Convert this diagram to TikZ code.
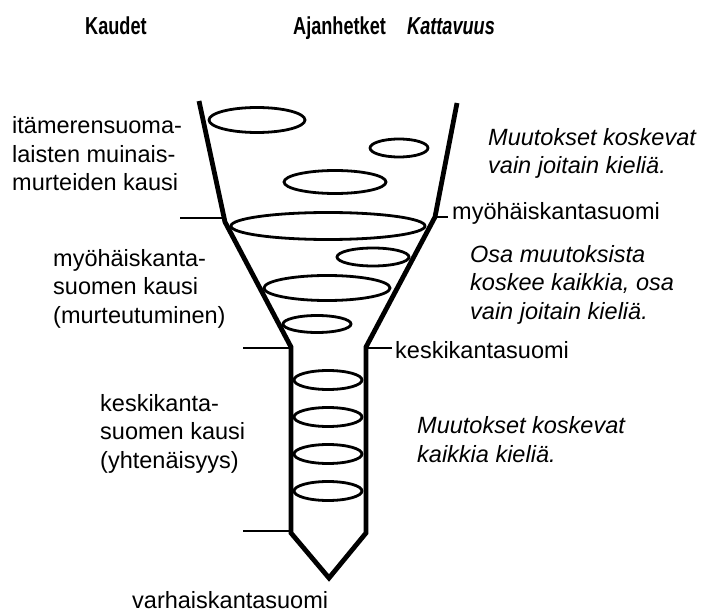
\documentclass[tikz,border=0pt]{standalone}
\usepackage{fontspec}
\setmainfont{Liberation Sans}
\newfontfamily\narrowfont[FakeStretch=0.74]{Liberation Sans}
\begin{document}
\begin{tikzpicture}[x=1pt,y=-1pt,
  lbl/.style={inner sep=0pt,anchor=base west,align=left,font=\fontsize{23.5}{28.5}\selectfont},
  ilbl/.style={lbl,font=\fontsize{23.5}{28.5}\selectfont\itshape},
  head/.style={inner sep=0pt,anchor=base west,font=\fontsize{24.5}{28}\selectfont\narrowfont\bfseries},
  funnel/.style={line width=4.8pt,line join=miter},
  tick/.style={line width=2.8pt},
  ring/.style={line width=2.8pt}]
\useasboundingbox (0,0) rectangle (714,612);
% headers
\node[head] (h1) at (85,35) {Kaudet};
\node[head] (h2) at (293,35) {Ajanhetket};
\node[head] (h3) at (407,35) {\itshape Kattavuus};
% funnel
\draw[funnel] (199,101) -- (225,222) -- (291,347) -- (291,533) -- (329,578)
  -- (366,533) -- (366,347) -- (435,217) -- (457,103);
% ticks
\coordinate (t1a) at (180,218); \coordinate (t1b) at (226,218);
\coordinate (t2a) at (435,217); \coordinate (t2b) at (448,217);
\coordinate (t3a) at (243,348); \coordinate (t3b) at (291,348);
\coordinate (t4a) at (366,348); \coordinate (t4b) at (392,348);
\coordinate (t5a) at (243,531); \coordinate (t5b) at (291,531);
\draw[tick] (t1a) -- (t1b);
\draw[tick] (t2a) -- (t2b);
\draw[tick] (t3a) -- (t3b);
\draw[tick] (t4a) -- (t4b);
\draw[tick] (t5a) -- (t5b);
% rings
\draw[ring] (257,120) ellipse [x radius=48, y radius=12.5];
\draw[ring] (399,148) ellipse [x radius=29, y radius=9];
\draw[ring] (335,182) ellipse [x radius=51, y radius=11.5];
\draw[ring] (328,226) ellipse [x radius=97, y radius=13.5];
\draw[ring] (373,257) ellipse [x radius=36, y radius=9];
\draw[ring] (327,288) ellipse [x radius=63, y radius=12.5];
\draw[ring] (317,324) ellipse [x radius=34, y radius=8.5];
\draw[ring] (328,380) ellipse [x radius=34, y radius=9.5];
\draw[ring] (328,417) ellipse [x radius=34, y radius=9.5];
\draw[ring] (328,454) ellipse [x radius=34, y radius=9.5];
\draw[ring] (328,491) ellipse [x radius=34, y radius=9.5];
% left labels (base anchor = last line)
\node[lbl] (k1) at (12,191) {itämerensuoma-\\laisten muinais-\\murteiden kausi};
\node[lbl] (k2) at (53,323) {myöhäiskanta-\\suomen kausi\\(murteutuminen)};
\node[lbl] (k3) at (100,468) {keskikanta-\\suomen kausi\\(yhtenäisyys)};
% time points
\node[lbl] (a1) at (452,220) {myöhäiskantasuomi};
\node[lbl] (a2) at (395,358) {keskikantasuomi};
\node[lbl] (a3) at (132,608) {varhaiskantasuomi};
% coverage
\node[ilbl] (c1) at (488,174) {Muutokset koskevat\\vain joitain kieliä.};
\node[ilbl] (c2) at (470,319) {Osa muutoksista\\koskee kaikkia, osa\\vain joitain kieliä.};
\node[ilbl] (c3) at (417,462) {Muutokset koskevat\\kaikkia kieliä.};
\end{tikzpicture}
\end{document}
